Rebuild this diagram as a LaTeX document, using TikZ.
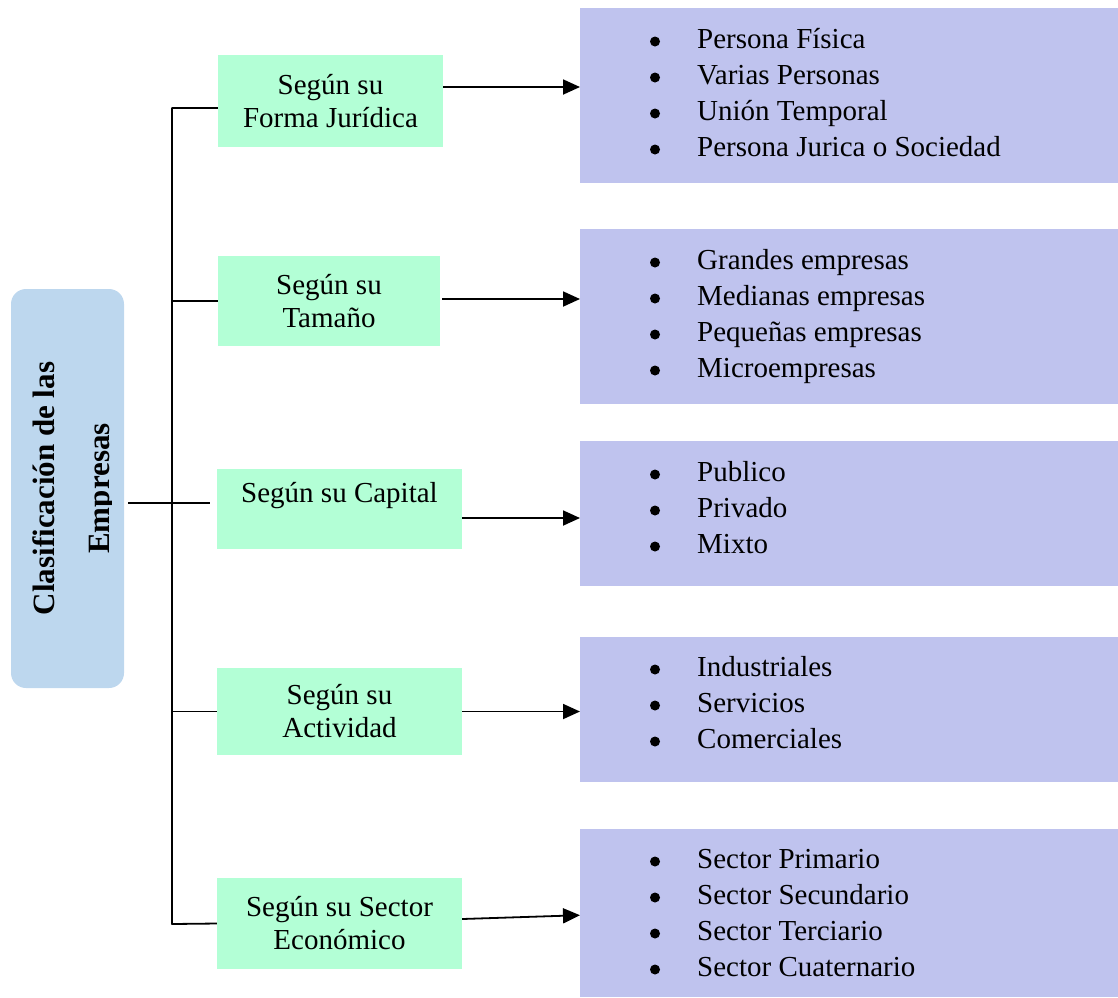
\documentclass[tikz,border=0pt]{standalone}
\usepackage{fontspec}
\setmainfont{Liberation Serif}
\usepackage{tikz}
\usetikzlibrary{arrows.meta}
\definecolor{mainfill}{RGB}{189,215,238}
\definecolor{catfill}{RGB}{179,255,214}
\definecolor{listfill}{RGB}{191,195,238}

\tikzset{
  mainbox/.style={fill=mainfill, rounded corners=15pt, minimum width=113pt, minimum height=399pt, inner sep=0pt},
  catbox/.style={fill=catfill, inner sep=0pt, align=center, font=\fontsize{29}{33}\selectfont},
  listbox/.style={fill=listfill, anchor=north west, inner sep=0pt, minimum width=540pt},
  item/.style={anchor=base west, inner sep=0pt, font=\fontsize{29}{33}\selectfont},
  dot/.style={circle, fill=black, inner sep=0pt, minimum size=10pt},
  arr/.style={line width=1.8pt, -{Triangle[length=17pt,width=15pt]}}
}

\begin{document}
\begin{tikzpicture}[x=1pt, y=-1pt, line join=round]
\useasboundingbox (0,0) rectangle (1118,997);

% main box
\node[mainbox] (clasif) at (67.5,488.5) {};
\begin{scope}
\clip (0,0) rectangle (111,997);
\node[rotate=90, align=center, font=\fontsize{31}{33}\selectfont\bfseries] (clasiftxt) at (74,488.5) {Clasificación de las\\[22pt]Empresas};
\end{scope}

% categories
\node[catbox, minimum width=225pt, minimum height=92pt] (forma) at (330.5,101) {Según su\\Forma Jurídica};
\node[catbox, minimum width=222pt, minimum height=90pt] (tamano) at (329,301) {Según su\\Tamaño};
\node[catbox, minimum width=245pt, minimum height=80pt] (capital) at (339.5,509) {Según su Capital\\\mbox{}};
\node[catbox, minimum width=245pt, minimum height=87pt] (actividad) at (339.5,711.5) {Según su\\Actividad};
\node[catbox, minimum width=245pt, minimum height=91pt] (sector) at (339.5,923.5) {Según su Sector\\Económico};

% lists
\node[listbox, minimum height=175pt] (lforma) at (580,8) {};
\node[listbox, minimum height=175pt] (ltamano) at (580,229) {};
\node[listbox, minimum height=145pt] (lcapital) at (580,441) {};
\node[listbox, minimum height=145pt] (lactividad) at (580,637) {};
\node[listbox, minimum height=168pt] (lsector) at (580,829) {};

\foreach \y/\items in {48.5/{Persona Física,Varias Personas,Unión Temporal,Persona Jurica o Sociedad},
                       269.5/{Grandes empresas,Medianas empresas,Pequeñas empresas,Microempresas},
                       481.5/{Publico,Privado,Mixto},
                       676.5/{Industriales,Servicios,Comerciales},
                       868.5/{Sector Primario,Sector Secundario,Sector Terciario,Sector Cuaternario}}{
  \foreach \t [count=\i] in \items {
    \node[dot] at (655,{\y+36*(\i-1)-7}) {};
    \node[item] at (697,{\y+36*(\i-1)}) {\t};
  }
}

% tree
\coordinate (bot) at (172,924);
\draw[line width=1.8pt] ([yshift=-7pt]forma.west) -| (bot) -- (sector.west);
\draw[line width=1.8pt] (tamano.west) -- (tamano.west -| bot);
\draw[line width=1.8pt] (actividad.west) -- (actividad.west -| bot);
\draw[line width=1.8pt] ([xshift=4pt,yshift=-14.5pt]clasif.east) coordinate (m) -- ([xshift=-7pt]m -| capital.west);

% arrows
\draw[arr] ([yshift=14pt]forma.east) coordinate (a1) -- (a1 -| lforma.west);
\draw[arr] ([xshift=2pt,yshift=2pt]tamano.east) coordinate (a2) -- (a2 -| ltamano.west);
\draw[arr] ([yshift=-9pt]capital.east) coordinate (a3) -- (a3 -| lcapital.west);
\draw[arr] (actividad.east) coordinate (a4) -- (a4 -| lactividad.west);
\draw[arr] ([yshift=4.5pt]sector.east) -- ([yshift=-2pt]lsector.west);
\end{tikzpicture}
\end{document}
